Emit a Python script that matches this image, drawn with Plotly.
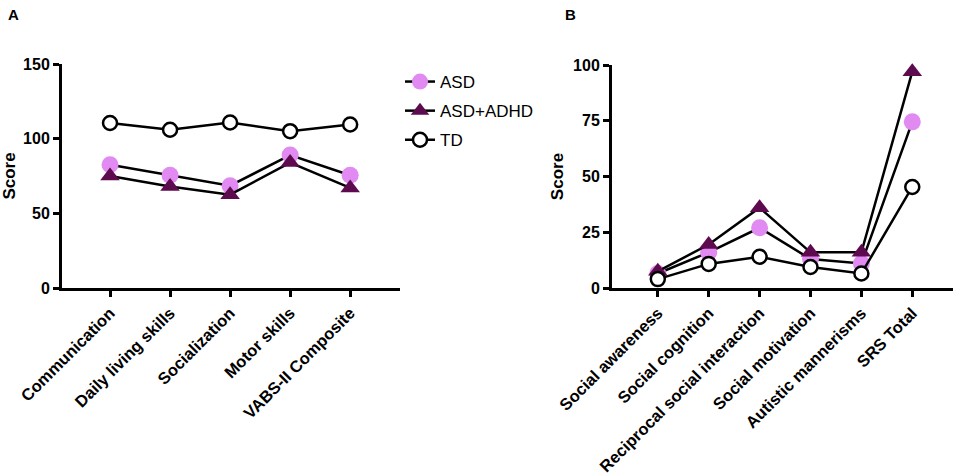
import plotly.graph_objects as go

# panel A - VABS-II
vabs_cats = ["Communication", "Daily living skills", "Socialization", "Motor skills", "VABS-II Composite"]
vabs_asd = [82.5, 75.5, 68.5, 89, 75.5]
vabs_asd_adhd = [75, 68, 62.5, 84, 67]
vabs_td = [110.5, 106, 110.8, 105, 109.5]

# panel B - SRS
srs_cats = ["Social awareness", "Social cognition", "Reciprocal social interaction",
            "Social motivation", "Autistic mannerisms", "SRS Total"]
srs_asd = [6.5, 16, 27, 13, 11, 74.5]
srs_asd_adhd = [7.5, 19.5, 36, 16, 16, 97]
srs_td = [4, 10.8, 14, 9.4, 6.5, 45.3]

ASD_COL = "#E08AF2"
ADHD_COL = "#5E0A4E"
FONT = "Arial, Liberation Sans, sans-serif"

fig = go.Figure()


def add_group(xs, ys, name, marker, xa, ya, show):
    fig.add_trace(go.Scatter(x=xs, y=ys, name=name, mode="lines+markers",
                             line=dict(color="black", width=2.5), marker=marker,
                             xaxis=xa, yaxis=ya, showlegend=show, legendgroup=name,
                             cliponaxis=False))


asd_m = dict(symbol="circle", size=17, color=ASD_COL, line=dict(width=0))
adhd_m = dict(symbol="triangle-up", size=17, color=ADHD_COL, line=dict(width=0))
td_m = dict(symbol="circle", size=14, color="white", line=dict(color="black", width=2.5))

add_group(vabs_cats, vabs_asd, "ASD", asd_m, "x", "y", True)
add_group(vabs_cats, vabs_asd_adhd, "ASD+ADHD", adhd_m, "x", "y", True)
add_group(vabs_cats, vabs_td, "TD", td_m, "x", "y", True)

add_group(srs_cats, srs_asd, "ASD", asd_m, "x2", "y2", False)
add_group(srs_cats, srs_asd_adhd, "ASD+ADHD", adhd_m, "x2", "y2", False)
add_group(srs_cats, srs_td, "TD", td_m, "x2", "y2", False)

W, H = 957, 475

xstyle = dict(showline=True, linecolor="black", linewidth=3, ticks="outside",
              ticklen=6, tickwidth=2.5, tickcolor="black", tickangle=-45,
              showgrid=False, zeroline=False, automargin=False,
              tickfont=dict(family=FONT, size=16.5, color="black", weight="bold"))
ystyle = dict(showline=True, linecolor="black", linewidth=3, ticks="outside",
              ticklen=6, tickwidth=2.5, tickcolor="black", showgrid=False, zeroline=False,
              automargin=False,
              tickfont=dict(family=FONT, size=16, color="black", weight="bold"),
              title=dict(text="Score", standoff=6,
                         font=dict(family=FONT, size=17, color="black", weight="bold")))

fig.update_layout(
    width=W, height=H, margin=dict(l=0, r=0, t=0, b=0, autoexpand=False),
    plot_bgcolor="white", paper_bgcolor="white",
    xaxis=dict(xstyle, domain=[62 / W, 400 / W], range=[-0.8, 4.83], anchor="y"),
    yaxis=dict(ystyle, domain=[(H - 288) / H, (H - 64) / H], range=[0, 150],
               tickvals=[0, 50, 100, 150], anchor="x"),
    xaxis2=dict(xstyle, domain=[612 / W, 953 / W], range=[-0.9, 5.8], anchor="y2"),
    yaxis2=dict(ystyle, domain=[(H - 288) / H, (H - 65) / H], range=[0, 100],
                tickvals=[0, 25, 50, 75, 100], anchor="x2"),
    legend=dict(x=400 / W, y=(H - 64) / H, xanchor="left", yanchor="top",
                font=dict(family=FONT, size=17, color="black"), itemwidth=30,
                bgcolor="rgba(0,0,0,0)", traceorder="grouped", tracegroupgap=4),
    annotations=[
        dict(text="A", x=6 / W, y=(H - 15) / H, xref="paper", yref="paper",
             showarrow=False, xanchor="left", yanchor="middle",
             font=dict(family=FONT, size=15, color="black", weight="bold")),
        dict(text="B", x=563 / W, y=(H - 15) / H, xref="paper", yref="paper",
             showarrow=False, xanchor="left", yanchor="middle",
             font=dict(family=FONT, size=15, color="black", weight="bold")),
    ],
)

fig.write_html("out.html", config={"displayModeBar": False},
               post_script="document.body.style.margin='0';")
